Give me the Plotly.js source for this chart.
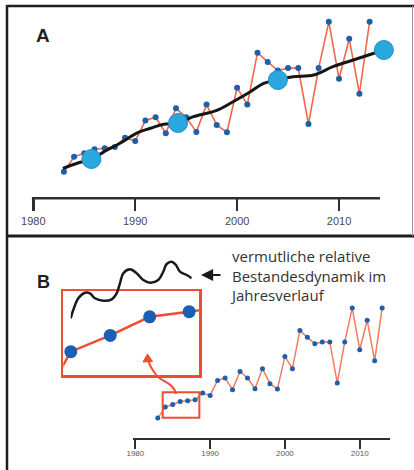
<!DOCTYPE html>
<html>
<head>
<meta charset="utf-8">
<script src="https://cdn.plot.ly/plotly-3.0.1.min.js"></script>
<style>
  html, body { margin: 0; padding: 0; background: #fff; }
  #chart { width: 414px; height: 470px; }
</style>
</head>
<body>
<div id="chart"></div>
<script>
// Annual population index, 1983-2013
const years = [1983, 1984, 1985, 1986, 1987, 1988, 1989, 1990, 1991, 1992,
               1993, 1994, 1995, 1996, 1997, 1998, 1999, 2000, 2001, 2002,
               2003, 2004, 2005, 2006, 2007, 2008, 2009, 2010, 2011, 2012, 2013];
const values = [26.5, 41.5, 45.0, 49.0, 50.1, 51.4, 60.6, 57.3, 77.8, 81.0,
                65.1, 90.0, 81.0, 66.4, 93.7, 73.3, 66.0, 110.5, 93.7, 145.6,
                136.4, 127.8, 130.2, 130.2, 74.2, 130.2, 176.5, 119.6, 159.6, 104.6, 176.5];

// Smoothed long-term trend
const trendYears  = [1982.9, 1984.3, 1985.7, 1987.2, 1988.5, 1990.1, 1991.5, 1992.8, 1994.2,
                     1995.7, 1998.0, 1999.6, 2001.3, 2002.6, 2004.0, 2005.5, 2007.5, 2009.4,
                     2011.4, 2014.4];
const trendValues = [30, 35, 39.3, 48, 55, 65, 70, 74, 75.3,
                     81.6, 88, 96.6, 106.6, 115, 118.3, 121.6, 123.3, 131.6,
                     138.3, 148.3];

// Period means (large circles)
const meanYears  = [1985.7, 1994.2, 2004.0, 2014.4];
const meanValues = [39.3, 75.3, 118.3, 148.3];

// Years shown in the magnified inset (panel B)
const insetYears = [1983, 1984, 1985, 1986, 1987, 1988];

// Schematic within-year dynamics (fraction of year, relative level)
const waveT = [0, 0.021, 0.063, 0.118, 0.16, 0.2, 0.27, 0.339, 0.38, 0.407, 0.435, 0.49,
               0.545, 0.6, 0.655, 0.724, 0.765, 0.793, 0.835, 0.87, 0.903, 0.959, 1.0];
const waveV = [1.7, 10, 21.7, 27.3, 26.7, 21.7, 19.3, 20.7, 26.7, 36.7, 46.7, 50.7,
               46.7, 40, 37.3, 40, 48.3, 56, 58.3, 55, 48.3, 45, 41.7];

const tickYears  = [1980, 1990, 2000, 2010];
const tickLabels = ['1980', '1990', '2000', '2010'];

const W = 414, H = 470;
const fx = p => p / W;
const fy = p => 1 - p / H;

const RED = '#f2664b';
const DOT = '#1f5ea8';
const FRAME = '#1e1e1e';
const AXIS = '#2e2e2e';

// panel A time axis: drawn span and full plotting span
const axisAStart = 1979.84, axisAEnd = 2014.02, rangeAEnd = 2015.0;
const pxPerYearA = 10.19;

const insetVals = insetYears.map(y => values[years.indexOf(y)]);

const traces = [
  // Panel A
  { x: years, y: values, xaxis: 'x', yaxis: 'y', type: 'scatter', mode: 'lines+markers',
    line: { color: RED, width: 1.6 }, marker: { color: DOT, size: 6 }, cliponaxis: false },
  { x: trendYears, y: trendValues, xaxis: 'x', yaxis: 'y', type: 'scatter', mode: 'lines',
    line: { color: '#161616', width: 3, shape: 'spline', smoothing: 1 } },
  { x: meanYears, y: meanValues, xaxis: 'x', yaxis: 'y', type: 'scatter', mode: 'markers',
    marker: { color: '#2aa7df', size: 19, line: { color: '#1e90cc', width: 1 } }, cliponaxis: false },
  // Panel B
  { x: years, y: values, xaxis: 'x2', yaxis: 'y2', type: 'scatter', mode: 'lines+markers',
    line: { color: '#f47a60', width: 1.5 }, marker: { color: DOT, size: 5 }, cliponaxis: false },
  // Magnified inset
  { x: insetYears, y: insetVals, xaxis: 'x3', yaxis: 'y3', type: 'scatter', mode: 'lines+markers',
    line: { color: '#f04e30', width: 2.5 }, marker: { color: '#1a5fb4', size: 13 } },
  // Within-year dynamics
  { x: waveT, y: waveV, xaxis: 'x4', yaxis: 'y4', type: 'scatter', mode: 'lines',
    line: { color: '#1a1a1a', width: 2.5, shape: 'spline', smoothing: 1 } }
];

const hidden = { visible: true, showline: false, showgrid: false, zeroline: false,
                 showticklabels: false, ticks: '', fixedrange: true };

const domA0 = 31.7;
const domA1 = domA0 + (rangeAEnd - axisAStart) * pxPerYearA;

const layout = {
  width: W, height: H,
  margin: { l: 0, r: 0, t: 0, b: 0 },
  paper_bgcolor: '#ffffff',
  plot_bgcolor: 'rgba(0,0,0,0)',
  showlegend: false,
  xaxis: {
    domain: [fx(domA0), fx(domA1)], range: [axisAStart, rangeAEnd],
    showline: false,
    ticks: 'outside', ticklen: 12, tickwidth: 2.5, tickcolor: AXIS,
    tickvals: tickYears, ticktext: tickLabels,
    tickfont: { family: 'Arial, Liberation Sans', size: 11, color: '#4a4a4a' },
    showgrid: false, zeroline: false, anchor: 'y'
  },
  yaxis: Object.assign({}, hidden, { domain: [fy(198.3), fy(10)], range: [0, 188.3], anchor: 'x' }),
  xaxis2: {
    domain: [fx(133), fx(390)], range: [1979.69, 2014.05],
    showline: true, linecolor: AXIS, linewidth: 2,
    ticks: 'outside', ticklen: 9, tickwidth: 2, tickcolor: AXIS,
    tickvals: tickYears, ticktext: tickLabels, ticklabelstandoff: -2,
    tickfont: { family: 'Arial, Liberation Sans', size: 8, color: '#5a5a5a' },
    showgrid: false, zeroline: false, anchor: 'y2'
  },
  yaxis2: Object.assign({}, hidden, { domain: [fy(437.5), fy(300)], range: [0, 187.3], anchor: 'x2' }),
  xaxis3: Object.assign({}, hidden, {
    domain: [fx(63.3), fx(199)], range: [1983.81, 1987.25], anchor: 'y3',
    showline: true, mirror: true, linecolor: '#f04e30', linewidth: 2.5 }),
  yaxis3: Object.assign({}, hidden, {
    domain: [fy(375), fy(291)], range: [36.49, 54.55], anchor: 'x3',
    showline: true, mirror: true, linecolor: '#f04e30', linewidth: 2.5 }),
  xaxis4: Object.assign({}, hidden, { domain: [fx(70.7), fx(191.7)], range: [0, 1], anchor: 'y4' }),
  yaxis4: Object.assign({}, hidden, { domain: [fy(320), fy(260)], range: [0, 60], anchor: 'x4' }),
  shapes: [
    // figure frame and panel divider
    { type: 'line', xref: 'paper', yref: 'paper', x0: fx(7), x1: 1, y0: fy(6), y1: fy(6),
      line: { color: FRAME, width: 2.5 } },
    { type: 'line', xref: 'paper', yref: 'paper', x0: fx(7), x1: fx(7), y0: fy(5), y1: 0,
      line: { color: FRAME, width: 2.5 } },
    { type: 'line', xref: 'paper', yref: 'paper', x0: fx(7), x1: 1, y0: fy(236), y1: fy(236),
      line: { color: FRAME, width: 3 } },
    { type: 'line', xref: 'paper', yref: 'paper', x0: fx(412.5), x1: fx(412.5), y0: fy(6), y1: fy(236),
      line: { color: '#9a9a9a', width: 1 } },
    // panel A time axis line
    { type: 'line', xref: 'x', yref: 'paper', x0: axisAStart, x1: axisAEnd, y0: fy(198.3), y1: fy(198.3),
      line: { color: AXIS, width: 2.5 } },
    // highlighted stretch of the series in panel B
    { type: 'rect', xref: 'x2', yref: 'y2', x0: 1983.66, x1: 1988.56, y0: 27.0, y1: 61.6,
      line: { color: '#f04e30', width: 2 }, fillcolor: 'rgba(0,0,0,0)' },
    // curved pointer from the highlighted stretch to the inset
    { type: 'path', xref: 'paper', yref: 'paper',
      path: 'M ' + fx(176) + ' ' + fy(394) + ' C ' + fx(174) + ' ' + fy(383) + ', ' + fx(161) + ' ' + fy(381) +
            ', ' + fx(157) + ' ' + fy(376) + ' S ' + fx(150) + ' ' + fy(367) + ', ' + fx(148.5) + ' ' + fy(361),
      line: { color: '#f04e30', width: 2 } },
    { type: 'path', xref: 'paper', yref: 'paper',
      path: 'M ' + fx(147.5) + ' ' + fy(354) + ' L ' + fx(143) + ' ' + fy(362) + ' L ' + fx(152.5) + ' ' + fy(361.5) + ' Z',
      fillcolor: '#f04e30', line: { color: '#f04e30', width: 1 } }
  ],
  annotations: [
    { text: '<b>A</b>', xref: 'paper', yref: 'paper', x: fx(43), y: fy(35.5),
      xanchor: 'center', yanchor: 'middle', showarrow: false,
      font: { family: 'Arial, Liberation Sans', size: 19, color: '#222' } },
    { text: '<b>B</b>', xref: 'paper', yref: 'paper', x: fx(43), y: fy(281.5),
      xanchor: 'center', yanchor: 'middle', showarrow: false,
      font: { family: 'Arial, Liberation Sans', size: 18, color: '#222' } },
    { text: 'vermutliche relative<br>Bestandesdynamik im<br>Jahresverlauf',
      xref: 'paper', yref: 'paper', x: fx(228), y: fy(275), xanchor: 'left', yanchor: 'middle',
      align: 'left', showarrow: false,
      font: { family: 'Open Sans', size: 15, color: '#333' } },
    { text: '', xref: 'paper', yref: 'paper', x: fx(201), y: fy(275),
      showarrow: true, ax: 21, ay: 0, arrowhead: 2, arrowsize: 1.1, arrowwidth: 2.2,
      arrowcolor: '#1a1a1a', standoff: 0 }
  ]
};

Plotly.newPlot('chart', traces, layout, { staticPlot: true, displayModeBar: false });
</script>
</body>
</html>
